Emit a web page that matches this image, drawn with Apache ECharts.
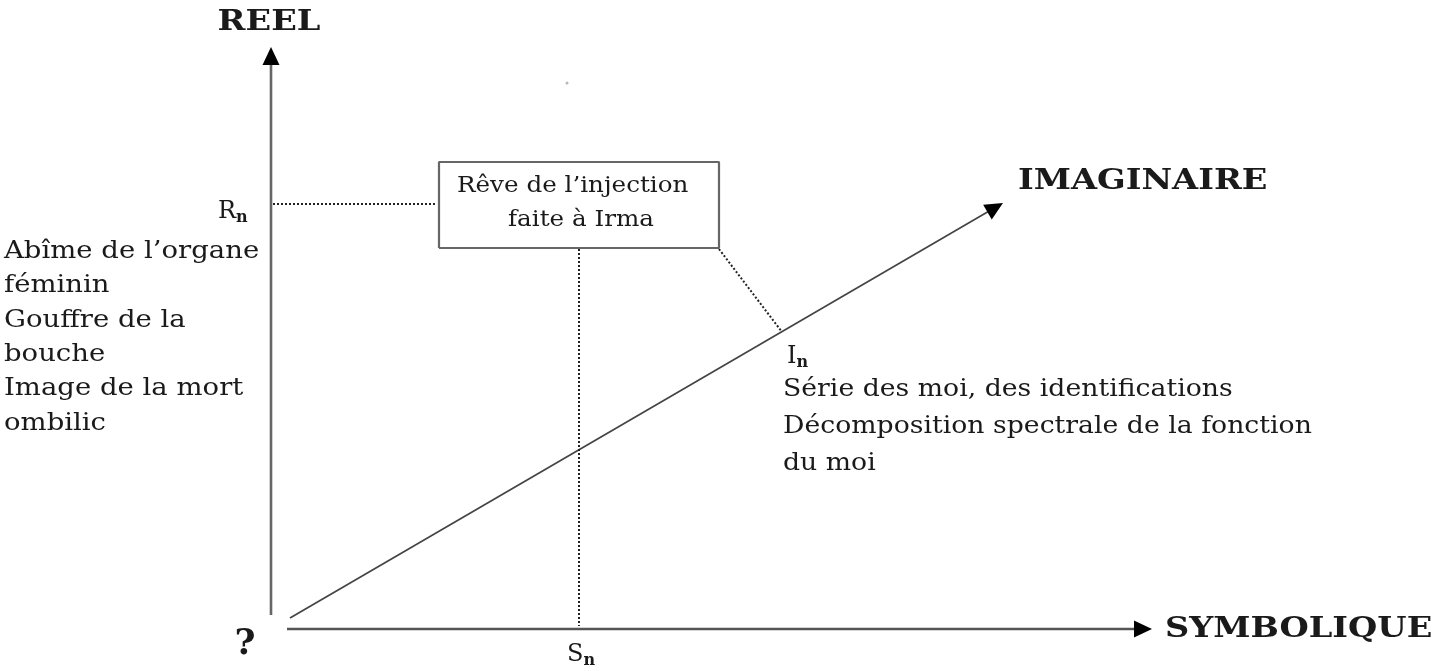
<!DOCTYPE html>
<html>
<head>
<meta charset="utf-8">
<title>Réel · Symbolique · Imaginaire</title>
<script src="https://cdn.jsdelivr.net/npm/echarts@6/dist/echarts.min.js"></script>
<style>
  html, body { margin: 0; background: #fff; }
  #chart { width: 1444px; height: 671px; }
</style>
</head>
<body>
<div id="chart"></div>
<script>
"use strict";
/* diagram units: 1 unit = 1 px, origin at the corner of the REEL / SYMBOLIQUE axes */

/* ---------- the three registers (axes, tail -> tip) ---------- */
const reelAxis = [[0, 14], [0, 582]];
const symbAxis = [[16, 0], [881, 0]];
const imagAxis = [[19, 11], [732, 426]];

/* ---------- dream box and its projections ---------- */
const dreamBox = [[168, 381], [448, 381], [448, 467], [168, 467], [168, 381]];
const rGuide = [[2, 425], [166, 425]];
const sGuide = [[308, 380], [308, 3]];
const iGuide = [[448, 380], [511, 297]];

/* ---------- texts ---------- */
const axisTitles = ["REEL", "SYMBOLIQUE", "IMAGINAIRE"];
const axisTitleAt = [[-2, 606], [894, -1], [747, 447]];
const axisTitleAlign = ["center", "left", "left"];

const indexLetters = ["R", "I", "S"];
const indexAt = [[-53, 417], [516, 272], [296, -26]];

const reelNotes = ["Abîme de l’organe", "féminin", "Gouffre de la", "bouche", "Image de la mort", "ombilic"];
const reelNotesAt = [-267, 395];
const imagNotes = ["Série des moi, des identifications", "Décomposition spectrale de la fonction", "du moi"];
const imagNotesAt = [512, 258];

const dreamLines = ["Rêve de l’injection", "faite à Irma"];
const dreamLinesAt = [[186, 443], [237, 409]];

const originMark = "?";
const originAt = [-26, -16];
const speck = [296, 546];

const INK = "#1a1a1a", SERIF = "DejaVu Serif";

/* ---------- helpers ---------- */
const unit = (a) => {
  const dx = a[1][0] - a[0][0], dy = a[1][1] - a[0][1], L = Math.hypot(dx, dy);
  return [dx / L, dy / L];
};
const shaft = (a, back) => {
  const u = unit(a);
  return [a[0], [a[1][0] - u[0] * back, a[1][1] - u[1] * back]];
};
const seg = (data, color, width, type) => ({
  type: "line", data, symbol: "none", silent: true, animation: false,
  lineStyle: { color, width, type: type || "solid", cap: "butt" },
});

const heads = [reelAxis, symbAxis, imagAxis].map((a) => {
  const u = unit(a);
  return {
    value: [a[1][0] - u[0] * 9, a[1][1] - u[1] * 9],
    symbolRotate: Math.atan2(u[1], u[0]) * 180 / Math.PI - 90,
  };
});

// text items drawn through the cartesian scale, optionally stretched horizontally
const texts = [];
axisTitles.forEach((t, i) => texts.push({
  at: axisTitleAt[i], text: t, align: axisTitleAlign[i], sx: 1.2,
  size: 28, weight: "bold",
}));
indexLetters.forEach((t, i) => texts.push({
  at: indexAt[i], text: `{m|${t}}{s|n}`, align: "left",
  rich: {
    m: { fontFamily: SERIF, fontSize: 24, lineHeight: 28, fill: INK },
    s: { fontFamily: SERIF, fontSize: 16, fontWeight: "bold", lineHeight: 12, verticalAlign: "bottom", fill: INK },
  },
}));
texts.push({ at: reelNotesAt, text: reelNotes.join("\n"), align: "left", va: "top", lh: 34.4, size: 25, sx: 1.1 });
texts.push({ at: imagNotesAt, text: imagNotes.join("\n"), align: "left", va: "top", lh: 37, size: 24.5, sx: 1.09 });
dreamLines.forEach((t, i) => texts.push({ at: dreamLinesAt[i], text: t, align: "left", size: 23, sx: 1.07 }));
texts.push({ at: originAt, text: originMark, align: "center", size: 36, weight: "bold" });

const chart = echarts.init(document.getElementById("chart"), null, { renderer: "canvas" });
chart.setOption({
  backgroundColor: "#fff",
  animation: false,
  grid: { left: 0, right: 0, top: 0, bottom: 0 },
  xAxis: { type: "value", min: -271, max: 1173, show: false },
  yAxis: { type: "value", min: -42, max: 629, show: false },
  series: [
    seg(shaft(reelAxis, 10), "#666", 2.6),
    seg(shaft(symbAxis, 10), "#555", 2.5),
    seg(shaft(imagAxis, 10), "#444", 1.7),
    seg(dreamBox, "#666", 2.2),
    seg(rGuide, "#222", 2, [2, 2]),
    seg(sGuide, "#222", 2, [2, 2]),
    seg(iGuide, "#222", 2, [2, 2]),
    {
      type: "scatter", silent: true, animation: false, data: heads, z: 5,
      symbol: "triangle", symbolSize: [17, 18], itemStyle: { color: "#000", opacity: 1 },
    },
    {
      type: "scatter", silent: true, animation: false, data: [speck],
      symbolSize: 3, itemStyle: { color: "#888", opacity: 0.6 },
    },
    {
      type: "custom", silent: true, animation: false, clip: false,
      data: texts.map((d) => d.at),
      renderItem: (params, api) => {
        const d = texts[params.dataIndex];
        const p = api.coord([api.value(0), api.value(1)]);
        const style = {
          text: d.text, fill: INK, fontFamily: SERIF,
          fontSize: d.size || 24, fontWeight: d.weight || "normal",
          align: d.align, verticalAlign: d.va || "middle",
        };
        if (d.lh) style.lineHeight = d.lh;
        if (d.rich) style.rich = d.rich;
        return { type: "text", x: p[0], y: p[1], scaleX: d.sx || 1, style };
      },
    },
  ],
});
</script>
</body>
</html>
